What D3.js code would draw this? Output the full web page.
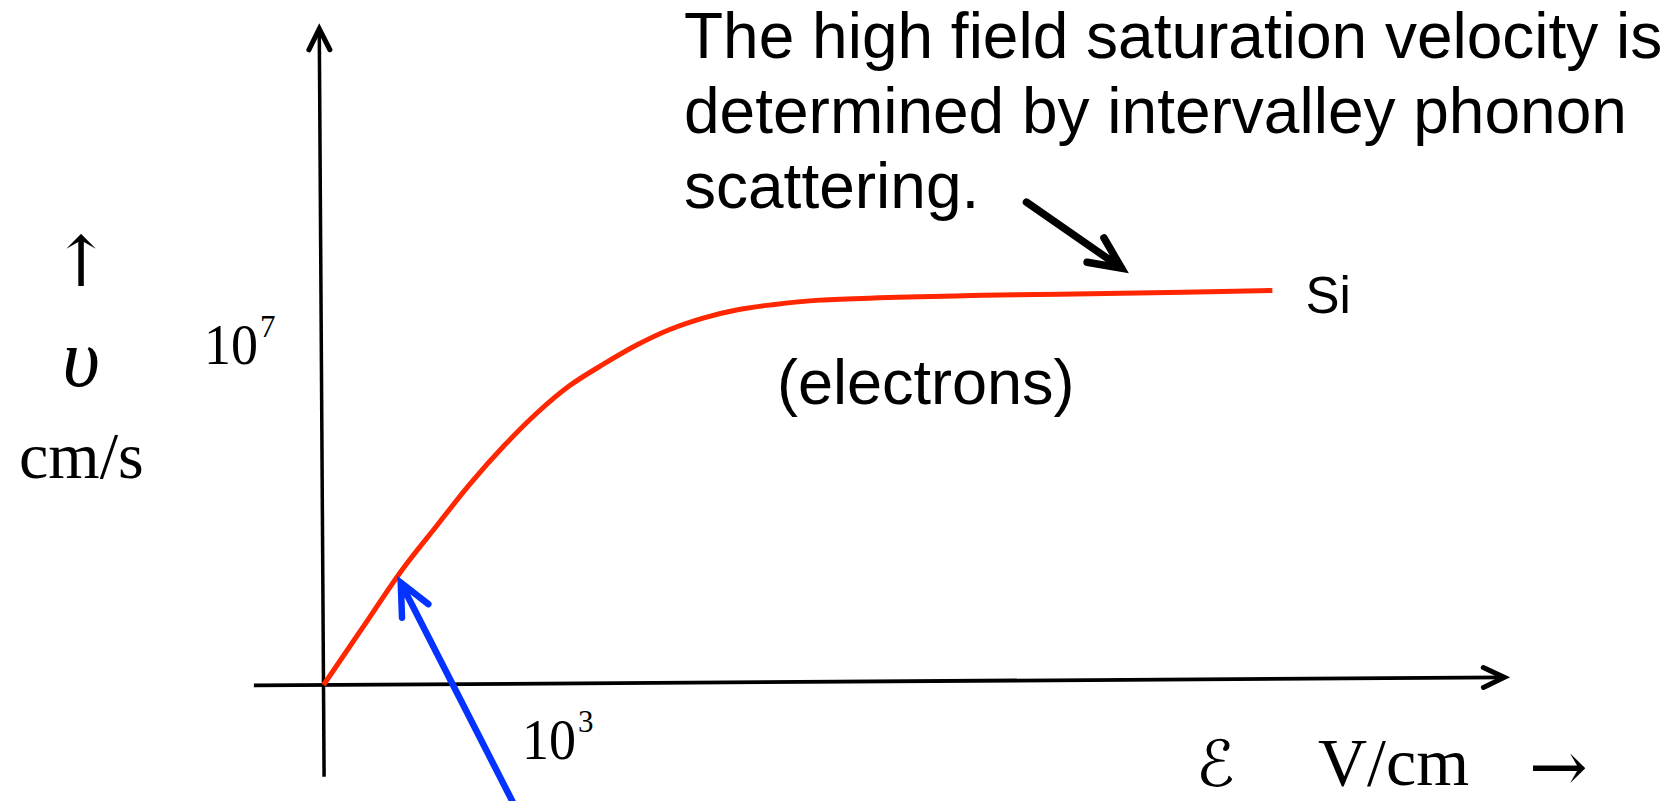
<!DOCTYPE html>
<html>
<head>
<meta charset="utf-8">
<script src="https://cdn.jsdelivr.net/npm/d3@7"></script>
<style>
body { margin: 0; background: #fff; }
svg { display: block; }
</style>
</head>
<body>
<svg id="chart"></svg>
<script>
// field in units of 10^3 V/cm, velocity in units of 10^7 cm/s
const fieldValues    = [0, 0.17, 0.34, 0.49, 0.63, 0.78, 0.92, 1.06, 1.21, 1.35, 1.49, 1.64, 1.78, 1.93, 2.14, 2.84, 3.44, 4.09];
const velocityValues = [0, 0.17, 0.34, 0.47, 0.59, 0.705, 0.80, 0.88, 0.945, 1.0, 1.045, 1.08, 1.103, 1.118, 1.132, 1.146, 1.152, 1.16];

const xAxisExtent = [-0.30, 5.09];
const yAxisExtent = [-0.27, 1.93];

const yTickLabel = ["10", "7"];
const xTickLabel = ["10", "3"];

const titleLines = ["The high field saturation velocity is",
                    "determined by intervalley phonon",
                    "scattering."];
const seriesName = "Si";
const carrierName = "(electrons)";

// annotation arrows, [field, velocity]
const satArrow = [[3.03, 1.42], [3.44, 1.226]];
const lowArrow = [[0.88, -0.43], [0.333, 0.301]];

const width = 1668, height = 801;
const svg = d3.select("#chart").attr("width", width).attr("height", height);
svg.append("rect").attr("width", width).attr("height", height).attr("fill", "#fff");

let xScale = d3.scaleLinear().domain([0, 1]).range([323.5, 555.5]);
let yScale = d3.scaleLinear().domain([0, 1]).range([685, 345]);

const x0 = xScale(0), y0 = yScale(0);

// axes (slightly tilted, as in the slide)
const axes = svg.append("g").attr("transform", `rotate(-0.37, ${x0}, ${y0})`);
axes.append("line")
    .attr("x1", xScale(xAxisExtent[0])).attr("y1", y0)
    .attr("x2", xScale(xAxisExtent[1])).attr("y2", y0)
    .attr("stroke", "#000").attr("stroke-width", 3.8);
axes.append("line")
    .attr("x1", x0).attr("y1", yScale(yAxisExtent[0]))
    .attr("x2", x0).attr("y2", yScale(yAxisExtent[1]))
    .attr("stroke", "#000").attr("stroke-width", 3.5);

const xt = xScale(xAxisExtent[1]), yt = yScale(yAxisExtent[1]);
axes.append("path")
    .attr("d", `M${xt - 21},${y0 - 10} L${xt},${y0} L${xt - 21},${y0 + 10}`)
    .attr("fill", "none").attr("stroke", "#000").attr("stroke-width", 5)
    .attr("stroke-linecap", "round").attr("stroke-linejoin", "miter");
axes.append("path")
    .attr("d", `M${x0 - 10.5},${yt + 21} L${x0},${yt} L${x0 + 10.5},${yt + 21}`)
    .attr("fill", "none").attr("stroke", "#000").attr("stroke-width", 5)
    .attr("stroke-linecap", "round").attr("stroke-linejoin", "miter");

// velocity-field curve
const points = fieldValues.map((e, i) => [e, velocityValues[i]]);
const line = d3.line()
    .x(d => xScale(d[0]))
    .y(d => yScale(d[1]))
    .curve(d3.curveCatmullRom.alpha(0.5));
svg.append("path")
    .datum(points)
    .attr("d", line)
    .attr("fill", "none")
    .attr("stroke", "#ff2600")
    .attr("stroke-width", 5);

function drawArrow(pts, color, w, headLen, headAngle) {
    const [tx, ty] = [xScale(pts[0][0]), yScale(pts[0][1])];
    const [hx, hy] = [xScale(pts[1][0]), yScale(pts[1][1])];
    const back = Math.atan2(ty - hy, tx - hx);
    const a = headAngle * Math.PI / 180;
    const p1 = [hx + headLen * Math.cos(back - a), hy + headLen * Math.sin(back - a)];
    const p2 = [hx + headLen * Math.cos(back + a), hy + headLen * Math.sin(back + a)];
    svg.append("path")
        .attr("d", `M${tx},${ty} L${hx},${hy} M${p1[0]},${p1[1]} L${hx},${hy} L${p2[0]},${p2[1]}`)
        .attr("fill", "none").attr("stroke", color).attr("stroke-width", w)
        .attr("stroke-linecap", "round").attr("stroke-linejoin", "miter")
        .attr("stroke-miterlimit", 10);
}
drawArrow(satArrow, "#000", 7.5, 35, 25);
drawArrow(lowArrow, "#0433ff", 6.5, 35, 25);

const sans = "'Liberation Sans', Arial, Helvetica, sans-serif";
const serif = "'Liberation Serif', 'Times New Roman', serif";

svg.selectAll(".title")
    .data(titleLines)
    .enter().append("text")
    .attr("class", "title")
    .attr("x", 684)
    .attr("y", (d, i) => 58 + i * 75)
    .attr("font-family", sans).attr("font-size", 64)
    .text(d => d);

svg.append("text")
    .attr("x", xScale(4.09) + 33).attr("y", yScale(1.16) + 22)
    .attr("font-family", sans).attr("font-size", 51)
    .text(seriesName);

svg.append("text")
    .attr("x", 777).attr("y", 404)
    .attr("font-family", sans).attr("font-size", 63)
    .text(carrierName);

// y label block
svg.append("text")
    .attr("x", 81).attr("y", 286).attr("text-anchor", "middle")
    .attr("font-family", "'DejaVu Serif', serif").attr("font-size", 70)
    .text("\u2191");
svg.append("text")
    .attr("x", 81).attr("y", 386).attr("text-anchor", "middle")
    .attr("font-family", serif).attr("font-style", "italic").attr("font-size", 82)
    .text("\u03c5");
svg.append("text")
    .attr("x", 19).attr("y", 478)
    .attr("font-family", serif).attr("font-size", 66)
    .text("cm/s");

// power-of-ten labels
function powerLabel(lbl, x, y) {
    const t = svg.append("text").attr("x", x).attr("y", y)
        .attr("font-family", serif).attr("font-size", 57);
    t.append("tspan").attr("textLength", 54).attr("lengthAdjust", "spacingAndGlyphs").text(lbl[0]);
    t.append("tspan").attr("font-size", 31).attr("dx", 2).attr("dy", -27).text(lbl[1]);
}
powerLabel(yTickLabel, 204, 364);
powerLabel(xTickLabel, 522, 759);

// x label block
svg.append("text")
    .attr("x", 1196).attr("y", 786)
    .attr("font-family", "'DejaVu Serif', 'DejaVu Sans', serif").attr("font-size", 64)
    .text("\u2130");
svg.append("text")
    .attr("x", 1318).attr("y", 785)
    .attr("font-family", serif).attr("font-size", 68)
    .text("V/cm");
svg.append("text")
    .attr("x", 1529).attr("y", 791)
    .attr("font-family", "'DejaVu Serif', serif").attr("font-size", 70)
    .text("\u2192");
</script>
</body>
</html>
